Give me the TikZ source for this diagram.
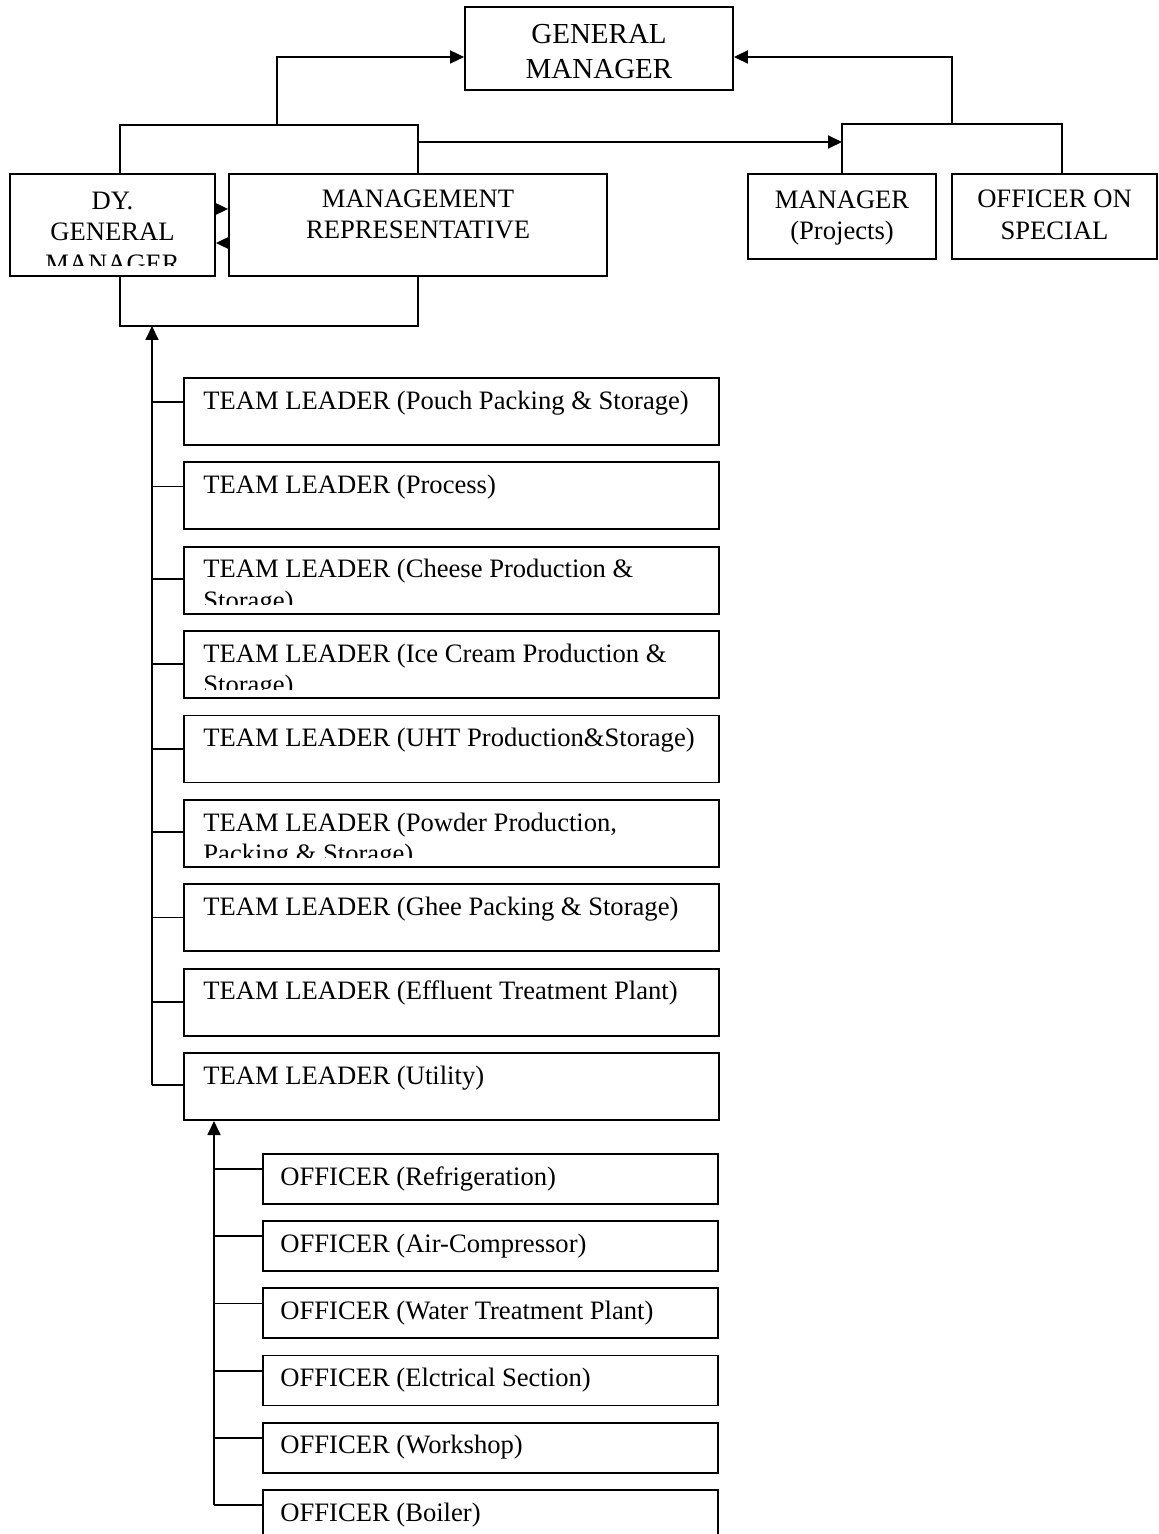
\documentclass[tikz,border=0pt]{standalone}
\usepackage{fontspec}
\setmainfont{Liberation Serif}
\usetikzlibrary{arrows.meta,positioning,calc}
\newcommand{\otxt}{\fontsize{13.3}{15.75}\selectfont}
\newcommand{\obig}{\fontsize{14.5}{17.5}\selectfont}
\newcommand{\olines}[1]{\begin{tabular}[t]{@{}l@{}}#1\end{tabular}}
\tikzset{
  >={Triangle[length=7pt,width=6.5pt]},
  oline/.style={draw=black, line width=0.9pt},
  oarr/.style={oline, ->},
  obox/.style={oline, rectangle, inner sep=0pt},
  otop/.style={align=center, inner sep=0pt, font=\otxt},
  oleft/.style={anchor=base west, inner sep=0pt, font=\otxt},
  otl/.style={obox, anchor=north west, minimum width=267.5pt, minimum height=33.5pt},
  ooff/.style={obox, anchor=north west, minimum width=227.5pt, minimum height=25pt},
}

\begin{document}
\begin{tikzpicture}[x=0.5pt,y=-0.5pt]
  \useasboundingbox (0,0) rectangle (1158,1534);

  % top level
  \node[obox, minimum width=134pt, minimum height=41.5pt] (gm) at (599,48.5) {};
  \node[otop, font=\obig] (gmtxt) at (599,51.5) {GENERAL\\MANAGER};

  \node[obox, minimum width=102.5pt, minimum height=51pt] (dgm) at (112.5,225) {};
  \begin{scope}
    \clip ([yshift=5.5pt]dgm.south west) rectangle (dgm.north east);
    \node[otop] (dgmtxt) at (112.5,232) {DY.\\GENERAL\\MANAGER};
  \end{scope}
  \node[obox, minimum width=189pt, minimum height=51pt] (mr) at (418,225) {};
  \node[otop] (mrtxt) at (418,214.5) {MANAGEMENT\\REPRESENTATIVE};
  \node[obox, minimum width=94pt, minimum height=42.5pt] (mp) at (842,216.5) {};
  \node[otop] (mptxt) at (842,218) {MANAGER\\(Projects)};
  \node[obox, minimum width=102.5pt, minimum height=42.5pt] (osd) at (1054.5,216.5) {};
  \node[otop] (osdtxt) at (1054.5,215) {OFFICER ON\\SPECIAL};

  % brackets and arrows at the top
  \coordinate (lbr) at (277,125);
  \coordinate (rbr) at (952,124);
  \coordinate (mrout) at (419,142);
  \coordinate (lowbr) at (152,326);
  \draw[oline] ([xshift=3.75pt]dgm.north) |- (lbr) -| (mr.north);
  \draw[oarr] (lbr) |- ([yshift=-4.25pt]gm.west);
  \draw[oline] (mp.north) |- (rbr) -| ([xshift=3.75pt]osd.north);
  \draw[oarr] (rbr) |- ([yshift=-4.25pt]gm.east);
  \draw[oarr] (mrout) -- (mrout -| mp.north);
  \draw[oarr] ([yshift=8pt]dgm.east) -- ([yshift=8pt]mr.west);
  \draw[oarr] ([yshift=-9pt]mr.west) -- ([yshift=-9pt]dgm.east);
  \draw[oline] ([xshift=3.75pt]dgm.south) |- (lowbr) -| (mr.south);

  % team leaders
  \foreach \t [count=\i from 0] in {
      {TEAM LEADER (Pouch Packing \& Storage)},
      {TEAM LEADER (Process)},
      {TEAM LEADER (Cheese Production \&\\Storage)},
      {TEAM LEADER (Ice Cream Production \&\\Storage)},
      {TEAM LEADER (UHT Production\&Storage)},
      {TEAM LEADER (Powder Production,\\Packing \& Storage)},
      {TEAM LEADER (Ghee Packing \& Storage)},
      {TEAM LEADER (Effluent Treatment Plant)},
      {TEAM LEADER (Utility)}}{
    \node[otl] (tl\i) at (183,{377+84.4*\i}) {};
    \begin{scope}
      \clip ([yshift=5pt]tl\i.south west) rectangle (tl\i.north east);
      \node[oleft] (tlt\i) at ($(tl\i.north west)+(20,32)$) {\olines{\t}};
    \end{scope}
  }
  \foreach \i/\dy in {0/25,1/25,2/33,3/34,4/34,5/33,6/34,7/34,8/33}
    \draw[oline] ($(tl\i.north west)+(0,\dy)$) coordinate (tk\i) -- (tk\i -| lowbr);
  \draw[oarr] (tk8 -| lowbr) -- (lowbr);

  % officers under utility
  \foreach \t [count=\i from 0] in {
      {OFFICER (Refrigeration)},
      {OFFICER (Air-Compressor)},
      {OFFICER (Water Treatment Plant)},
      {OFFICER (Elctrical Section)},
      {OFFICER (Workshop)},
      {OFFICER (Boiler)}}{
    \node[ooff] (of\i) at (262,{1153+67.2*\i}) {};
    \node[oleft] (oft\i) at ($(of\i.north west)+(18,32)$) {\t};
    \draw[oline] ($(of\i.north west)+(0,16)$) coordinate (ok\i) -- ++(-48,0);
  }
  \coordinate (ospine) at (214,1117);
  \draw[oarr] (ok5 -| ospine) -- (ospine |- tl8.south);

\end{tikzpicture}
\end{document}
